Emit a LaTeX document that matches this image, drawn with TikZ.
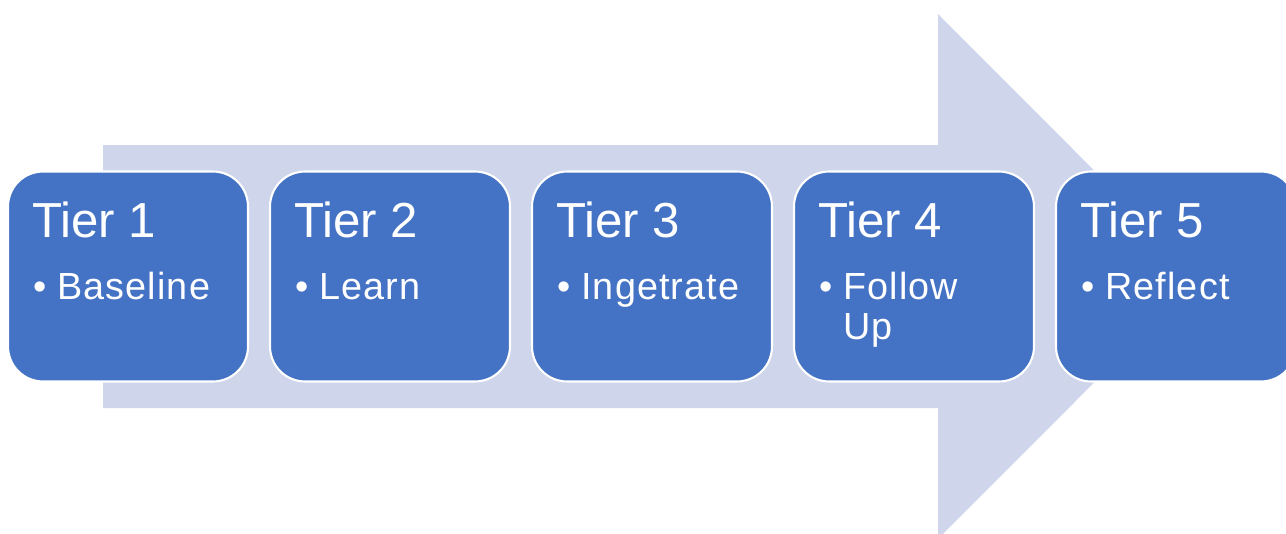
\documentclass[tikz,border=0pt]{standalone}
\usepackage{fontspec}
\setmainfont{Liberation Sans}
\newfontfamily\itemfont[LetterSpace=3]{Liberation Sans}
\usetikzlibrary{calc}
\definecolor{tierblue}{HTML}{4472C4}
\definecolor{arrowfill}{HTML}{CFD5EA}
\tikzset{tier/.style={draw=white,line width=1.2pt,fill=tierblue,rounded corners=.7cm,minimum width=4.8cm,minimum height=4.2cm,inner sep=0},
heading/.style={text=white,anchor=base west,inner sep=0,font=\fontsize{28}{34}\selectfont},
item/.style={text=white,anchor=base west,inner sep=0,font=\itemfont\fontsize{21.5}{26}\selectfont}}

\begin{document}
\begin{tikzpicture}[x=.02cm,y=-.02cm]
\useasboundingbox (0,0) rectangle (1286,534);
\clip (0,0) rectangle (1286,534);
% big arrow behind the tiers
\fill[arrowfill] (103,145)--(938,145)--(938,14)--(1200,276.5)--(938,539)--(938,408)--(103,408)--cycle;
\foreach \i/\txt/\more in {1/Baseline/,2/Learn/,3/Ingetrate/,4/Follow/Up,5/Reflect/}{
\node[tier] (t\i) at (128+262*\i-262,276.5){};
\node[heading] (h\i) at ($(t\i.north west)+(25,67)$){Tier \i};
\node[item] (b\i) at ($(t\i.north west)+(26,129)$){\textbullet};
\node[item] (a\i) at ($(t\i.north west)+(50,129)$){\txt};
\node[item] (c\i) at ($(t\i.north west)+(50,169)$){\more};
}
\end{tikzpicture}
\end{document}
